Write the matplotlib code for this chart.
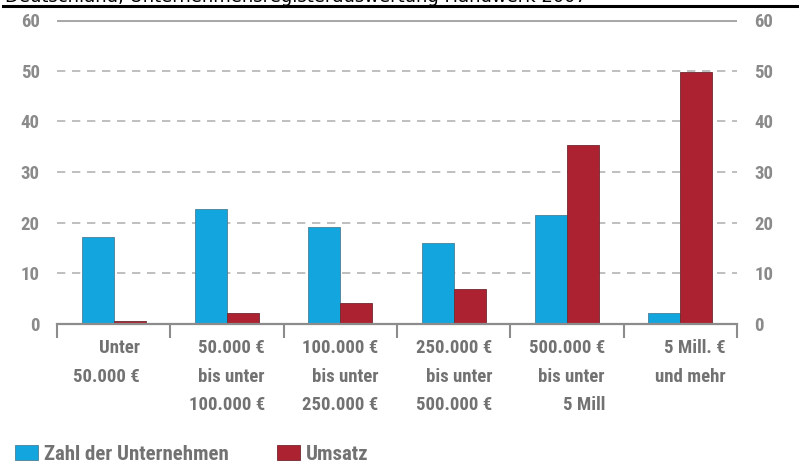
import matplotlib
matplotlib.use("Agg")
import matplotlib.pyplot as plt
from matplotlib import font_manager as fm
import matplotlib.transforms as mtransforms
import numpy as np

categories = [
    "Unter\n50.000 €",
    "50.000 €\nbis unter\n100.000 €",
    "100.000 €\nbis unter\n250.000 €",
    "250.000 €\nbis unter\n500.000 €",
    "500.000 €\nbis unter\n5 Mill",
    "5 Mill. €\nund mehr",
]
zahl_unternehmen = [17.2, 22.7, 19.1, 16.0, 21.6, 2.1]
umsatz = [0.5, 2.2, 4.1, 6.9, 35.4, 49.7]
y_ticks = [0, 10, 20, 30, 40, 50, 60]
series_names = ["Zahl der Unternehmen", "Umsatz"]
header_text = "Deutschland, Unternehmensregisterauswertung Handwerk 2007"

# pick a condensed font if available
cond_family = None
cond_stretch = "normal"
names = {f.name for f in fm.fontManager.ttflist}
for cand in ["Liberation Sans Narrow", "Roboto Condensed", "Open Sans Condensed",
             "DejaVu Sans Condensed", "Noto Sans Condensed"]:
    if cand in names:
        cond_family = cand
        break
if cond_family is None:
    for f in fm.fontManager.ttflist:
        if f.stretch in ("condensed", "semi-condensed", "extra-condensed") or \
           "Condensed" in f.name or "Narrow" in f.name:
            cond_family = f.name
            cond_stretch = f.stretch if isinstance(f.stretch, str) else "condensed"
            break
if cond_family is None:
    cond_family = "DejaVu Sans"
    cond_stretch = "normal"

plt.rcParams["font.family"] = [cond_family, "DejaVu Sans"]
plt.rcParams["font.stretch"] = cond_stretch

W, H = 799, 467
fig = plt.figure(figsize=(W / 100, H / 100), dpi=100)
ax_l, ax_r, ax_b, ax_t = 57, 737, 324, 20
ax = fig.add_axes([ax_l / W, 1 - ax_b / H, (ax_r - ax_l) / W, (ax_b - ax_t) / H])

blue = "#13a6de"
red = "#ad2231"
txt_gray = "#727272"
tick_gray = "#8a8a8a"
grid_gray = "#b4b4b4"

x = np.arange(len(categories))
bw = 0.283
ax.bar(x - bw / 2, zahl_unternehmen, width=bw, color=blue, edgecolor="#4a7f96",
       linewidth=0.6, zorder=3, label=series_names[0])
ax.bar(x + bw / 2, umsatz, width=bw, color=red, edgecolor="#6e2a30",
       linewidth=0.6, zorder=3, label=series_names[1])

ax.set_xlim(-0.5, len(categories) - 0.5)
ax.set_ylim(0, 60)

for s in ["top", "right", "left"]:
    ax.spines[s].set_visible(False)
ax.spines["bottom"].set_color("#8c8c8c")
ax.spines["bottom"].set_linewidth(1.6)
ax.spines["bottom"].set_zorder(4)

for v in y_ticks[1:-1]:
    ax.axhline(v, color=grid_gray, linewidth=1.2, linestyle=(0, (5, 4)), zorder=1)
ax.axhline(y_ticks[-1], color="#a8a8a8", linewidth=2.2, zorder=1)

ax.set_yticks(y_ticks)
ax.tick_params(axis="y", length=0, labelsize=13.5, colors=tick_gray, pad=12.5,
               labelleft=True, labelright=True)
for lab in ax.get_yticklabels():
    lab.set_fontweight("bold")

# minor ticks at group boundaries for the tick marks
ax.set_xticks(np.arange(len(categories) + 1) - 0.5, minor=True)
ax.tick_params(axis="x", which="minor", length=10, width=1.5, color="#8c8c8c", direction="out")
ax.set_xticks(x)
ax.set_xticklabels(categories, ha="right", fontsize=13.5, color=txt_gray,
                   fontweight="bold", linespacing=1.75)
ax.tick_params(axis="x", which="major", length=0, pad=11)
offsets = [26, 38, 38, 39, 38, 45]
for lab, off in zip(ax.get_xticklabels(), offsets):
    lab.set_transform(lab.get_transform() +
                      mtransforms.ScaledTranslation(off / 100, 0, fig.dpi_scale_trans))

# legend
leg = fig.legend(loc="lower left", bbox_to_anchor=(7 / W, -5 / H), ncol=2, frameon=False,
                 fontsize=15, handlelength=1.1, handleheight=0.7, handletextpad=0.3,
                 columnspacing=2.3, borderaxespad=0)
for t in leg.get_texts():
    t.set_color(txt_gray)
    t.set_fontweight("bold")

# header (cropped, as in the source image) and rule
fig.text(5 / W, 1 - 2.5 / H, header_text, fontsize=13, color="black",
         family="DejaVu Sans", stretch="normal", va="baseline", ha="left")
fig.add_artist(plt.Line2D([3 / W, 1], [1 - 6.3 / H, 1 - 6.3 / H], color="black",
                          linewidth=2.2, transform=fig.transFigure))

fig.savefig("out.png", dpi=100)
